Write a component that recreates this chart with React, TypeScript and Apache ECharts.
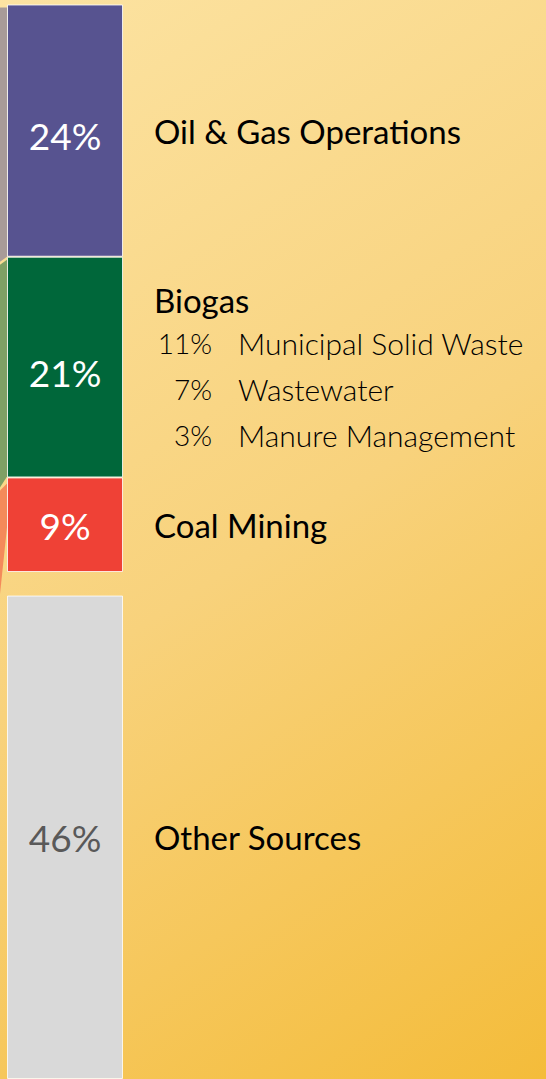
import React, { useEffect, useRef } from 'react';
import * as echarts from 'echarts';

// ---- data ----
const categories = ['Oil & Gas Operations', 'Biogas', 'Coal Mining', 'Other Sources'];
const shares = [24, 21, 9, 46];
const biogasParts = ['Municipal Solid Waste', 'Wastewater', 'Manure Management'];
const biogasShares = [11, 7, 3];
const spacerAfterCoal = 2.24; // visual gap between Coal Mining and Other Sources

// ---- styles ----
const barColors = ['#575390', '#00673a', '#ef4136', '#d9d9d9'];
const valueLabelColors = ['#ffffff', '#ffffff', '#ffffff', '#595959'];
const valueLabelOffsets = [5, 5, 1, 0];
const flareColors = ['#a89b98', '#7fa064', '#f48a5a'];
const FONT = 'Lato, "Open Sans", sans-serif';

export default function App() {
  const ref = useRef<HTMLDivElement>(null);

  useEffect(() => {
    if (!ref.current) return;
    const chart = echarts.init(ref.current, undefined, { renderer: 'svg' });

    type Entry = { name: string; value: number; idx: number; spacer?: boolean };
    const entries: Entry[] = [];
    categories.forEach((c, i) => {
      entries.push({ name: c, value: shares[i], idx: i });
      if (c === 'Coal Mining') entries.push({ name: 'spacer', value: spacerAfterCoal, idx: -1, spacer: true });
    });
    const total = entries.reduce((s, e) => s + e.value, 0);

    const richStyles = {
      h: { fontSize: 33, lineHeight: 44, color: '#000', fontFamily: FONT, padding: [4, 0, 0, 0] },
      p: { fontSize: 28, fontWeight: 300, lineHeight: 46, color: '#000', fontFamily: FONT },
      n: { fontSize: 30, fontWeight: 300, lineHeight: 46, color: '#000', fontFamily: FONT, padding: [0, 0, 0, 84] },
    };
    const biogasNames = '{h|Biogas}\n' + biogasParts.map((p) => `{n|${p}}`).join('\n');
    const biogasPcts = '{h| }\n' + biogasShares.map((v) => `{p|${v}%}`).join('\n');

    const series: any[] = [];
    // visible stacked bar with value labels
    entries.forEach((e) => {
      series.push({
        type: 'bar',
        name: e.name,
        stack: 'bars',
        data: [e.value],
        barWidth: '100%',
        barGap: '-100%',
        silent: true,
        itemStyle: {
          color: e.spacer ? 'transparent' : barColors[e.idx],
          borderColor: e.spacer ? 'transparent' : 'rgba(255,255,255,0.8)',
          borderWidth: e.spacer ? 0 : 1,
        },
        label: {
          show: !e.spacer,
          position: 'inside',
          offset: [0, e.spacer ? 0 : valueLabelOffsets[e.idx]],
          formatter: `${e.value}%`,
          color: e.spacer ? 'transparent' : valueLabelColors[e.idx],
          fontSize: 37,
          fontFamily: FONT,
        },
      });
    });
    // invisible overlay stack carrying the category names
    entries.forEach((e) => {
      const isBiogas = e.name === 'Biogas';
      series.push({
        type: 'bar',
        name: e.name + ' name',
        stack: 'names',
        data: [e.value],
        barWidth: '100%',
        barGap: '-100%',
        silent: true,
        itemStyle: { color: 'transparent', borderWidth: 0 },
        label: {
          show: !e.spacer,
          position: 'right',
          distance: 31,
          align: 'left',
          formatter: isBiogas ? biogasNames : e.name,
          color: '#000',
          fontSize: 33,
          fontFamily: FONT,
          rich: richStyles,
        },
      });
    });
    // invisible overlay stack carrying the right-aligned biogas sub-shares
    entries.forEach((e) => {
      const isBiogas = e.name === 'Biogas';
      series.push({
        type: 'bar',
        name: e.name + ' pct',
        stack: 'pcts',
        data: [e.value],
        barWidth: '100%',
        barGap: '-100%',
        silent: true,
        itemStyle: { color: 'transparent', borderWidth: 0 },
        label: {
          show: isBiogas,
          position: 'right',
          distance: 89,
          align: 'right',
          formatter: biogasPcts,
          rich: richStyles,
        },
      });
    });

    chart.setOption({
      animation: false,
      backgroundColor: {
        type: 'linear',
        global: true,
        x: 0, y: 0, x2: 661, y2: 1004,
        colorStops: [
          { offset: 0, color: '#fce3a2' },
          { offset: 0.5, color: '#f8d27c' },
          { offset: 1, color: '#f4bc3a' },
        ],
      },
      grid: { left: 7, width: 116, top: 4.5, height: 1075.5 },
      xAxis: { type: 'category', data: ['share'], show: false },
      yAxis: { type: 'value', inverse: true, min: 0, max: total, show: false },
      series,
    });

    // decorative flares on the left edge, derived from segment boundaries
    const yPx = (v: number) => (chart.convertToPixel({ gridIndex: 0 }, [0, v]) as number[])[1];
    const b0 = yPx(0);
    const b1 = yPx(shares[0]);
    const b2 = yPx(shares[0] + shares[1]);
    const b3 = yPx(shares[0] + shares[1] + shares[2]);
    const xr = 7;
    chart.setOption({
      graphic: [
        { type: 'polygon', silent: true, shape: { points: [[0, b0 + 3], [xr, b0 + 3], [xr, b1], [0, b1 + 5]] }, style: { fill: flareColors[0] } },
        { type: 'polygon', silent: true, shape: { points: [[0, b1 + 8], [xr, b1 + 3], [xr, b2 - 1], [0, b2 + 10]] }, style: { fill: flareColors[1] } },
        { type: 'polygon', silent: true, shape: { points: [[0, b2 + 13], [xr, b2 + 6], [xr, b2 + 50], [0, b3 + 22]] }, style: { fill: flareColors[2] } },
      ],
    });

    return () => chart.dispose();
  }, []);

  return <div ref={ref} style={{ position: 'absolute', left: 0, top: 0, width: 546, height: 1079 }} />;
}
